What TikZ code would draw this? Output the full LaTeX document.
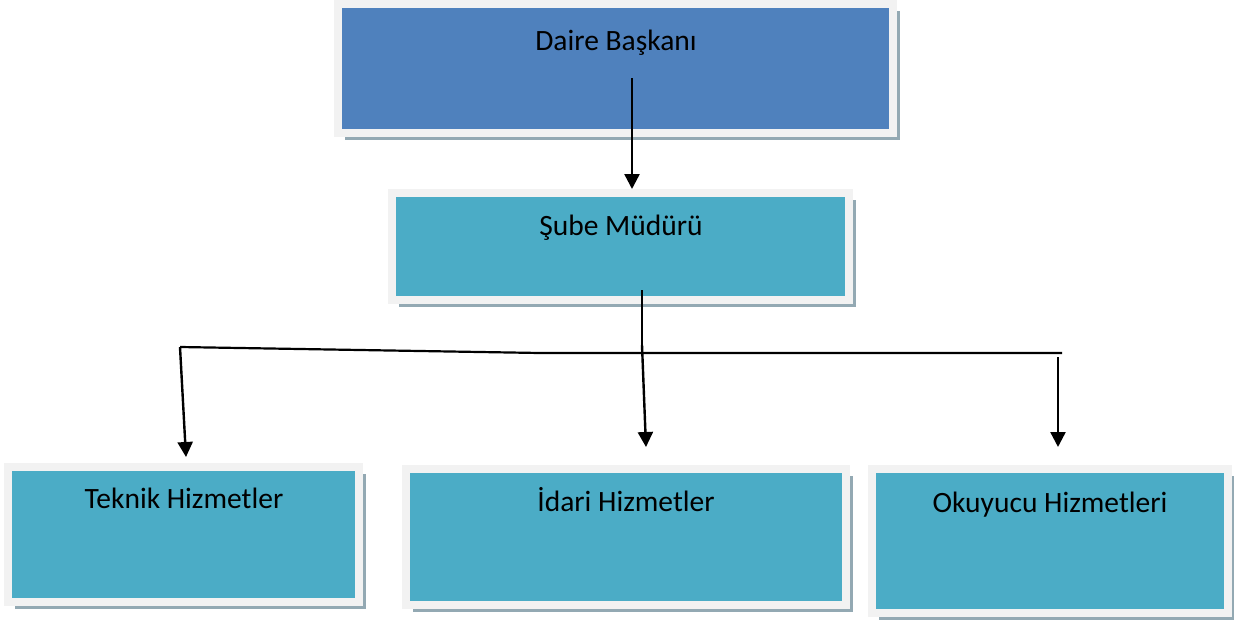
\documentclass[tikz,border=0pt]{standalone}
\usepackage{fontspec}
\setmainfont{Carlito}
\usetikzlibrary{arrows.meta,shadows}
\definecolor{darkbox}{HTML}{4F81BD}
\definecolor{lightbox}{HTML}{4BACC6}
\definecolor{rim}{HTML}{F2F2F2}
\definecolor{shade}{HTML}{93A9B3}
\begin{document}
\begin{tikzpicture}[x=1pt,y=-1pt,
  box/.style={rectangle, draw=rim, line width=8pt, inner sep=0pt,
    drop shadow={shadow xshift=7pt, shadow yshift=-7pt, fill=shade, opacity=1}},
  lbl/.style={anchor=base, inner sep=0pt, font=\fontsize{29.5}{34}\selectfont},
  arr/.style={line width=2.4pt, -{Triangle[width=15pt,length=15pt]}},
  link/.style={line width=2.2pt}]
\useasboundingbox (0,0) rectangle (1234,621);
\node[box, fill=darkbox, minimum width=555pt, minimum height=129pt] (bas) at (615.5,68.5){};
\node[box, fill=lightbox, minimum width=457pt, minimum height=107pt] (sube) at (620.5,246.5){};
\node[box, fill=lightbox, minimum width=351pt, minimum height=135pt] (tek) at (183.5,534.5){};
\node[box, fill=lightbox, minimum width=440pt, minimum height=136pt] (ida) at (626,537){};
\node[box, fill=lightbox, minimum width=356pt, minimum height=144pt] (oku) at (1050,541){};
\node[lbl] (tbas) at (616,50){Daire Başkanı};
\node[lbl] (tsube) at (621,235){Şube Müdürü};
\node[lbl] (ttek) at (184,508){Teknik Hizmetler};
\node[lbl] (tida) at (626,511){İdari Hizmetler};
\node[lbl] (toku) at (1050,512){Okuyucu Hizmetleri};
\coordinate (c0) at (632,78);
\coordinate (c1) at (642,290);
\coordinate (c2) at (642,352);
\coordinate (hl) at (180,347);
\coordinate (hb) at (540,353);
\coordinate (hr) at (1062,353);
\coordinate (hm) at (642,345);
\coordinate (hk) at (1058,357);
\draw[arr](c0) -- (c0 |- sube.north);
\draw[link](c1) -- (c2);
\draw[link](hl) -- (hb) -- (hr);
\draw[arr](hl) -- (186,457);
\draw[arr](hm) -- (646,447);
\draw[arr](hk) -- (1058,447);
\end{tikzpicture}
\end{document}
